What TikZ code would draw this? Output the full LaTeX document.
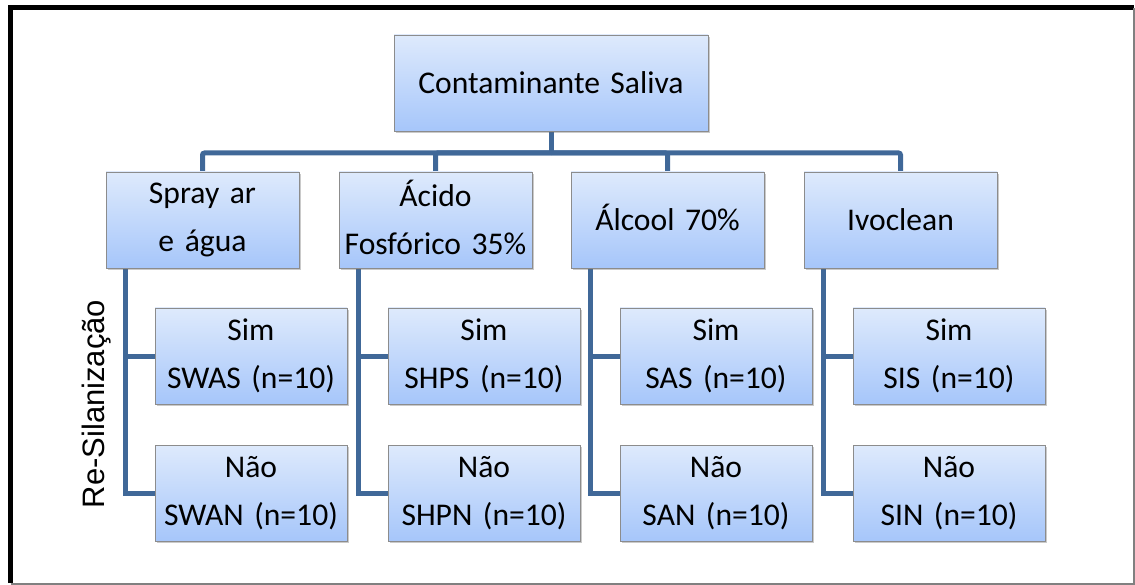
\documentclass[tikz,border=0pt]{standalone}
\usepackage{fontspec}
\setmainfont[WordSpace=0.6]{Carlito}
\newfontfamily\arialfont{Liberation Sans}
\usetikzlibrary{shadows}
\pgfdeclarelayer{background}
\pgfsetlayers{background,main}
\definecolor{conn}{RGB}{64,104,152}
\definecolor{boxtop}{RGB}{222,234,252}
\definecolor{boxbot}{RGB}{166,198,250}
\definecolor{boxline}{RGB}{140,140,140}
\tikzset{
  box/.style={rectangle, draw=boxline, line width=0.8pt, top color=boxtop, bottom color=boxbot,
    minimum height=96pt, inner sep=0pt, align=center,
    font=\fontsize{31.6}{48}\selectfont,
    drop shadow={shadow xshift=2pt, shadow yshift=-2pt, opacity=0.35, fill=black!60}},
  l1box/.style={box, minimum width=193pt, text width=190pt},
  leaf/.style={box, minimum width=192pt, text width=190pt},
  rootbox/.style={box, minimum width=314pt, text width=310pt},
  link/.style={draw=conn, line width=5pt},
  bus/.style={link, rounded corners=2pt}
}
\begin{document}
\begin{tikzpicture}[x=1pt,y=-1pt]
\useasboundingbox (0,0) rectangle (1135,585);
% frame
\draw[line width=5pt] (10.5,583) -- (10.5,8) -- (1134,8);
\draw[gray, line width=2pt] (10.5,583.5) -- (1133.5,583.5) -- (1133.5,8);

\node[rootbox] (root) at (551,83) {Contaminante Saliva};

\node[l1box] (a) at (202.5,220) {Spray ar\\e água};
\node[l1box] (b) at (435.5,220) {\vphantom{S}\smash{Ácido}\\Fosfórico 35\%};
\node[l1box] (c) at (667.5,220) {\vphantom{Ivoclean}\smash{Álcool 70\%}};
\node[l1box] (d) at (900.5,220) {Ivoclean};

\node[leaf] (as) at (251,356) {Sim\\SWAS (n=10)};
\node[leaf] (an) at (251,493) {Não\\SWAN (n=10)};
\node[leaf] (bs) at (484,356) {Sim\\SHPS (n=10)};
\node[leaf] (bn) at (484,493) {Não\\SHPN (n=10)};
\node[leaf] (cs) at (716,356) {Sim\\SAS (n=10)};
\node[leaf] (cn) at (716,493) {Não\\SAN (n=10)};
\node[leaf] (ds) at (949,356) {Sim\\SIS (n=10)};
\node[leaf] (dn) at (949,493) {Não\\SIN (n=10)};

\coordinate (bar) at (551,153);

\begin{pgfonlayer}{background}
\draw[link] (root.south) -- (bar);
\foreach \n in {a,b,c,d}{
  \draw[bus] (\n.north) |- (bar);
  \draw[link] ([xshift=20pt]\n.south west) |- (\n n.west);
  \draw[link] ([xshift=20pt]\n.south west |- \n s.west) -- (\n s.west);
}
\end{pgfonlayer}

\node[rotate=90, inner sep=0pt, font=\arialfont\fontsize{31}{36}\selectfont] (resil) at (97,404) {Re-Silanização};
\end{tikzpicture}
\end{document}
